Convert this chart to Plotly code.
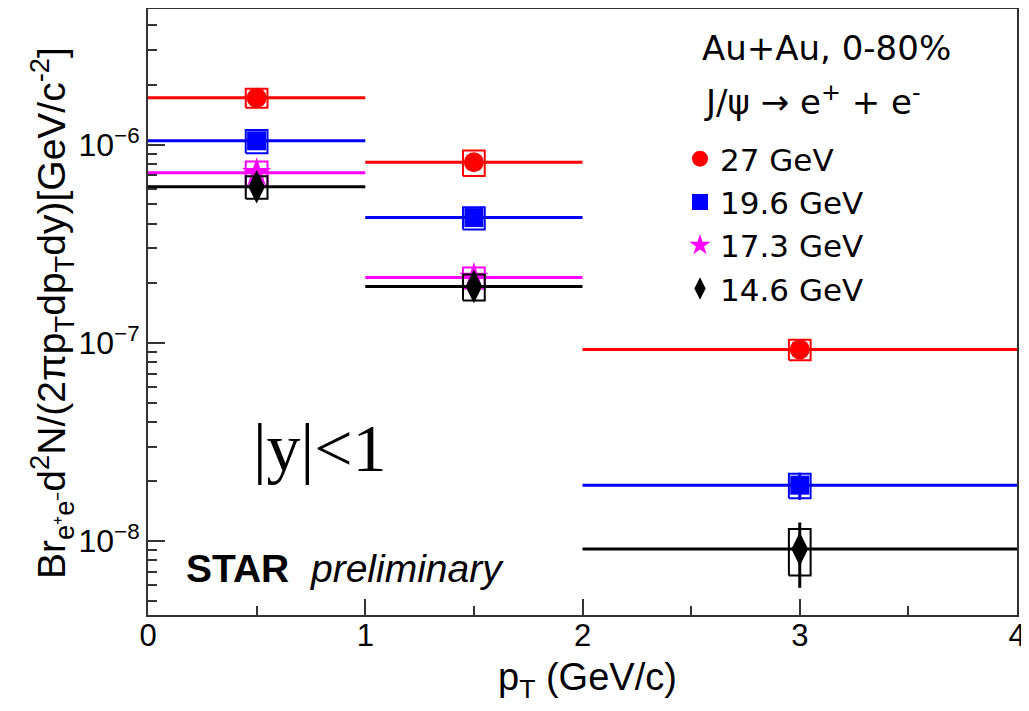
import plotly.graph_objects as go

# ---------------- data ----------------
pt = [0.5, 1.5, 3.0]
pt_half_bin = [0.5, 0.5, 1.0]
pt173 = [0.5, 1.5]
pt173_half_bin = [0.5, 0.5]
box_half_width = 0.05

y27 = [1.725e-6, 8.16e-7, 9.27e-8]
stat27 = [6e-8, 3e-8, 4e-9]
sys27 = [1.9e-7, 1.2e-7, 1.1e-8]

y196 = [1.047e-6, 4.29e-7, 1.915e-8]
stat196 = [4e-8, 1.6e-8, 3.0e-9]
sys196 = [1.4e-7, 5.5e-8, 2.7e-9]

y173 = [7.23e-7, 2.14e-7]
stat173 = [3e-8, 1e-8]
sys173 = [1.0e-7, 2.6e-8]

y146 = [6.14e-7, 1.926e-7, 9.11e-9]
stat146 = [2.5e-8, 9e-9, 3.3e-9]
sys146 = [8e-8, 2.9e-8, 2.4e-9]

series = [
    ("27 GeV", pt, pt_half_bin, y27, stat27, sys27, "#ff0000", "circle", 20),
    ("19.6 GeV", pt, pt_half_bin, y196, stat196, sys196, "#0000ff", "square", 19),
    ("17.3 GeV", pt173, pt173_half_bin, y173, stat173, sys173, "#ff00ff", "star", 22),
    ("14.6 GeV", pt, pt_half_bin, y146, stat146, sys146, "#000000", "diamond-tall", 24),
]

y_tick_vals = [1e-8, 1e-7, 1e-6]
y_tick_text = ["10<sup>\u22128</sup>", "10<sup>\u22127</sup>", "10<sup>\u22126</sup>"]
x_tick_vals = [0, 1, 2, 3, 4]

# ---------------- figure ----------------
fig = go.Figure()

for name, xs, xh, ys, st, sy, col, sym, msz in series:
    bx, by = [], []
    for x, y, s in zip(xs, ys, sy):
        x0, x1 = x - box_half_width, x + box_half_width
        y0, y1 = y - s, y + s
        bx += [x0, x1, x1, x0, x0, None]
        by += [y0, y0, y1, y1, y0, None]
    fig.add_trace(go.Scatter(
        x=bx, y=by, mode="lines", line=dict(color=col, width=2),
        showlegend=False, hoverinfo="skip"))
    fig.add_trace(go.Scatter(
        x=xs, y=ys, mode="markers", name=name,
        marker=dict(symbol=sym, size=msz, color=col, line=dict(width=0)),
        error_x=dict(type="data", array=xh, color=col, thickness=3, width=0),
        error_y=dict(type="data", array=st, color=col, thickness=3, width=0),
    ))

# page body has an 8px margin: figure is sized/placed to compensate (no scrollbars)
OFF = 8
W, H = 1013, 695
L, R, T, B = 140, 4, 1, 88
pw, ph = W - L - R, H - T - B

def px(xs):
    return (xs - OFF - L) / pw

def py(ys):
    return 1 - (ys - OFF - T) / ph

minor_y = [m * 10.0 ** e for e in range(-9, -5) for m in range(2, 10)]

fig.update_layout(
    width=W, height=H,
    margin=dict(l=L, r=R, t=T, b=B, autoexpand=False),
    paper_bgcolor="white", plot_bgcolor="white",
    font=dict(family="Liberation Sans", color="black"),
    xaxis=dict(
        range=[0, 4], tickvals=x_tick_vals, ticks="inside", ticklen=16,
        tickwidth=2, tickcolor="#333", showgrid=False, zeroline=False,
        showline=True, linecolor="#333", linewidth=2, mirror=True,
        automargin=False, ticklabelstandoff=-8, ticklabeloverflow="allow",
        tickfont=dict(size=31, family="Liberation Sans"),
        minor=dict(ticks="inside", ticklen=9, tickwidth=2, tickcolor="#333",
                   dtick=0.5, showgrid=False),
    ),
    yaxis=dict(
        type="log", range=[-8.373, -5.315],
        tickvals=y_tick_vals, ticktext=y_tick_text,
        ticks="inside", ticklen=17, tickwidth=2, tickcolor="#333",
        showgrid=False, zeroline=False,
        showline=True, linecolor="#333", linewidth=2, mirror=True,
        automargin=False,
        tickfont=dict(size=32, family="Liberation Sans"),
        minor=dict(ticks="inside", ticklen=9, tickwidth=2, tickcolor="#333",
                   tickvals=minor_y, showgrid=False),
    ),
    legend=dict(
        x=px(680), y=py(132), xanchor="left", yanchor="top",
        bgcolor="white", borderwidth=0,
        font=dict(family="DejaVu Sans", size=31, color="black"),
        itemsizing="trace",
    ),
    showlegend=True,
)

ann = [
    dict(text="Br<sub>e\u207ae\u207b</sub>d<sup>2</sup>N/(2\u03c0p<sub>T</sub>dp<sub>T</sub>dy)[GeV/c<sup>-2</sup>]",
         x=px(52), y=py(313), textangle=-90, font=dict(size=39, family="Liberation Sans")),
    dict(text="Au+Au, 0-80%", x=px(826), y=py(48),
         font=dict(size=34, family="DejaVu Sans")),
    dict(text="J/\u03c8 \u2192 e<sup>+</sup> + e<sup>-</sup>", x=px(812), y=py(100),
         font=dict(size=34, family="DejaVu Sans")),
    dict(text="|y|<1", x=px(320), y=py(448),
         font=dict(size=68, family="Liberation Serif")),
    dict(text="<b>STAR</b>  <i>preliminary</i>", x=px(345), y=py(568),
         font=dict(size=39, family="Liberation Sans")),
    dict(text="p<sub>T</sub> (GeV/c)", x=px(587), y=py(680),
         font=dict(size=38, family="Liberation Sans")),
]
for a in ann:
    a.update(xref="paper", yref="paper", showarrow=False,
             xanchor="center", yanchor="middle")
    fig.add_annotation(**a)

fig.write_html("out.html")
